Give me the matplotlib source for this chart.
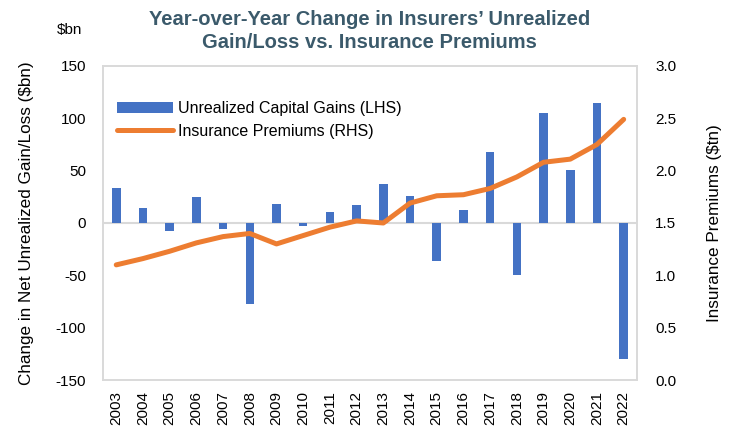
import numpy as np
import matplotlib
matplotlib.use('Agg')
import matplotlib.pyplot as plt

# values
years = [str(y) for y in range(2003, 2023)]
gains = [33, 14, -8, 25, -6, -77, 18, -3, 10.5, 17, 37, 26, -36, 12, 67.5, -50, 105, 51, 115, -130]
premiums = [1.10, 1.16, 1.23, 1.31, 1.37, 1.40, 1.30, 1.38, 1.46, 1.52, 1.50, 1.69, 1.76, 1.77, 1.83,
            1.94, 2.08, 2.11, 2.25, 2.49]
left_ticks = [150, 100, 50, 0, -50, -100, -150]
right_ticks = [3.0, 2.5, 2.0, 1.5, 1.0, 0.5, 0.0]

plt.rcParams['font.family'] = ['Liberation Sans', 'DejaVu Sans']
blue = '#4472C4'
orange = '#ED7D31'
grey = '#D9D9D9'

fig = plt.figure(figsize=(7.35, 4.34), dpi=100)
ax = fig.add_axes([0.140, 0.1244, 0.7267, 0.7236])
ax2 = ax.twinx()

x = np.arange(len(years))
ax.bar(x, gains, width=0.32, color=blue, label='Unrealized Capital Gains (LHS)', zorder=2)
ax.axhline(0, color=grey, lw=1.5, zorder=1)
ax2.plot(x, premiums, color=orange, lw=3.6, solid_capstyle='round', label='Insurance Premiums (RHS)')

ax.set_xlim(-0.5, len(years) - 0.5)
ax.set_ylim(-150, 150)
ax.set_yticks(left_ticks)
ax.set_yticklabels([str(t) for t in left_ticks])
ax2.set_ylim(0, 3.0)
ax2.set_yticks(right_ticks)
ax2.set_yticklabels([f'{t:.1f}' for t in right_ticks])
ax.set_xticks(x)
ax.set_xticklabels(years, rotation=90)

for a in (ax, ax2):
    a.tick_params(length=0, labelsize=11, colors='black')
    for s in a.spines.values():
        s.set_color(grey)
        s.set_linewidth(1.2)
ax.tick_params(axis='y', pad=12)
ax2.tick_params(axis='y', pad=13)
ax.tick_params(axis='x', pad=8)

ax.set_ylabel('Change in Net Unrealized Gain/Loss ($bn)', fontsize=12.3, labelpad=16)
ax2.set_ylabel('Insurance Premiums ($tn)', fontsize=12.3, rotation=90, labelpad=22)

fig.text(57 / 735, 1 - 30 / 434, '$bn', fontsize=11, va='center', ha='left')

fig.text(0.503, 1 - 31 / 434, 'Year-over-Year Change in Insurers\u2019 Unrealized\nGain/Loss vs. Insurance Premiums',
         ha='center', va='center', fontsize=14.5, fontweight='bold', color='#3B5A6B',
         family=['Liberation Sans Narrow', 'Liberation Sans', 'DejaVu Sans'], linespacing=1.3)

h1, l1 = ax.get_legend_handles_labels()
h2, l2 = ax2.get_legend_handles_labels()
ax2.legend(h1 + h2, l1 + l2, loc='upper left', bbox_to_anchor=(0.0, 0.935), frameon=False,
           fontsize=11.5, handlelength=3.5, handletextpad=0.3, labelspacing=0.5)

fig.savefig('out.png', dpi=100)
